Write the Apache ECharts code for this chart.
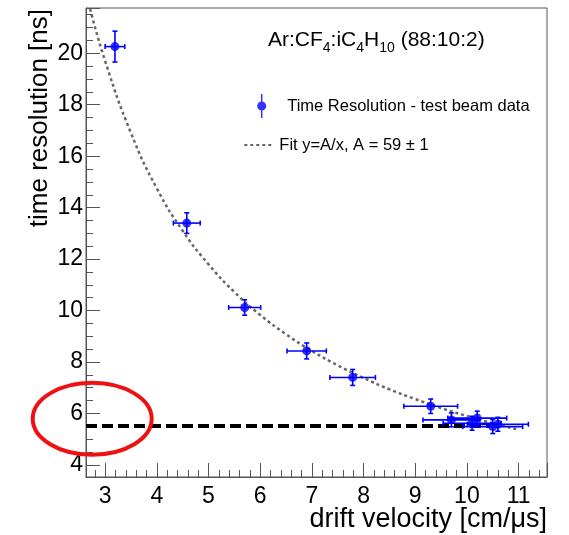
<!DOCTYPE html>
<html><head><meta charset="utf-8">
<script src="https://cdn.jsdelivr.net/npm/echarts@6/dist/echarts.min.js"></script>
<style>html,body{margin:0;padding:0;background:#fff}#c{width:569px;height:535px}</style>
</head><body><div id="c"></div>
<script>
// ---- data ----
const driftVelocity  = [3.19, 4.58, 5.70, 6.90, 7.79, 9.30, 9.70, 10.10, 10.20, 10.50, 10.60];
const timeResolution = [20.26, 13.40, 10.12, 8.43, 7.40, 6.28, 5.75, 5.62, 5.82, 5.49, 5.58];
const velocityErr    = [0.19, 0.26, 0.31, 0.38, 0.44, 0.52, 0.55, 0.56, 0.57, 0.58, 0.59];
const resolutionErr  = [0.60, 0.40, 0.30, 0.31, 0.31, 0.28, 0.27, 0.27, 0.27, 0.27, 0.27];
// fit curve samples
const fitX = [2.71, 3.0, 3.5, 4.0, 4.5, 5.0, 5.5, 6.0, 6.5, 7.0, 7.5, 8.0, 8.5, 9.0, 9.5, 10.0, 10.5, 11.0];
const fitY = [21.72, 19.7, 16.9, 14.75, 13.1, 11.8, 10.72, 9.83, 9.08, 8.43, 7.87, 7.38, 6.94, 6.56, 6.21, 5.9, 5.62, 5.37];
// dashed horizontal reference line
const refLineX = [2.63, 10.45];
const refLineY = 5.51;
// annotation ellipse centre (data coords)
const ellipseCenter = [2.75, 5.79];
// axis ranges
const xRange = [2.63, 11.55];
const yRange = [3.53, 21.76];
const dataName = 'Time Resolution - test beam data';
const fitName = 'Fit y=A/x, A = 59 \u00b1 1';
const xTitle = 'drift velocity [cm/\u03bcs]';
const yTitle = 'time resolution [ns]';

const FONT = '"Liberation Sans", Arial, Helvetica, sans-serif';
const AX = '#555';

const chart = echarts.init(document.getElementById('c'), null, {renderer: 'canvas'});

const errData = driftVelocity.map((v, i) => [v, timeResolution[i], velocityErr[i], resolutionErr[i]]);
const ptData = driftVelocity.map((v, i) => [v, timeResolution[i]]);
const fitData = fitX.map((v, i) => [v, fitY[i]]);
const refData = refLineX.map(v => [v, refLineY]);

function axisCommon() {
  return {
    type: 'value',
    axisLine: {show: true, onZero: false, lineStyle: {color: AX, width: 1}},
    axisTick: {show: true, inside: true, length: 14, lineStyle: {color: AX, width: 1}},
    minorTick: {show: true, length: 7, lineStyle: {color: AX, width: 1}},
    splitLine: {show: false},
    minorSplitLine: {show: false},
    axisLabel: {color: '#000', fontSize: 23, fontFamily: FONT, showMinLabel: false, showMaxLabel: false}
  };
}

const xAxis = axisCommon();
Object.assign(xAxis, {min: xRange[0], max: xRange[1], splitNumber: 9});
xAxis.minorTick.splitNumber = 5;
xAxis.axisLabel.margin = 8;

const yAxis = axisCommon();
Object.assign(yAxis, {min: yRange[0], max: yRange[1], splitNumber: 9});
yAxis.minorTick.splitNumber = 4;
yAxis.axisLabel.margin = 3;

const markerIcon = 'path://M3.75,0 L5.25,0 L5.25,24 L3.75,24 Z M0,12 A4.5,4.5 0 1,1 9,12 A4.5,4.5 0 1,1 0,12 Z';

chart.setOption({
  animation: false,
  backgroundColor: '#fff',
  grid: {left: 86, right: 22, top: 8, bottom: 58, show: true, borderColor: AX, borderWidth: 1,
         backgroundColor: 'transparent', containLabel: false, outerBoundsMode: 'none'},
  title: {
    left: 268, top: 28, padding: 0,
    text: '{a|Ar:CF}{s|4}{a|:iC}{s|4}{a|H}{s|10}{a| (88:10:2)}',
    textStyle: {
      fontWeight: 'normal',
      rich: {
        a: {fontSize: 21, fontWeight: 'normal', fontFamily: FONT, color: '#000', lineHeight: 24},
        s: {fontSize: 14, fontWeight: 'normal', fontFamily: FONT, color: '#000', lineHeight: 16, padding: [17, 0, 0, 0]}
      }
    }
  },
  legend: [
    {data: [{name: dataName, icon: markerIcon}], left: 257.2, top: 94, padding: 0,
     itemWidth: 9, itemHeight: 24, itemGap: 0, selectedMode: false,
     textStyle: {fontSize: 16.5, fontFamily: FONT, color: '#000', lineHeight: 20, padding: [0, 0, 0, 16]}},
    {data: [{name: fitName}], left: 243.3, top: 135, padding: 0,
     itemWidth: 30, itemHeight: 14, itemGap: 0, selectedMode: false,
     itemStyle: {opacity: 0},
     textStyle: {fontSize: 16.5, fontFamily: FONT, color: '#000', lineHeight: 20}}
  ],
  xAxis: xAxis,
  yAxis: yAxis,
  series: [
    {
      name: fitName, type: 'line', data: fitData, smooth: true, symbol: 'none', showSymbol: false,
      lineStyle: {color: '#666', width: 2.5, type: [3, 3]}, itemStyle: {color: '#666'}, z: 2
    },
    {
      name: 'ref', type: 'line', data: refData, symbol: 'none', showSymbol: false,
      lineStyle: {color: '#000', width: 4, type: [11, 5]}, z: 3
    },
    {
      name: 'errors', type: 'custom', data: errData, encode: {x: 0, y: 1}, z: 4,
      renderItem: function (params, api) {
        const x = api.value(0), y = api.value(1), ex = api.value(2), ey = api.value(3);
        const l = api.coord([x - ex, y]), r = api.coord([x + ex, y]);
        const t = api.coord([x, y + ey]), b = api.coord([x, y - ey]);
        const cap = 2.5;
        const st = {stroke: '#0000ff', lineWidth: 1.6};
        return {type: 'group', children: [
          {type: 'line', shape: {x1: l[0], y1: l[1], x2: r[0], y2: r[1]}, style: st},
          {type: 'line', shape: {x1: t[0], y1: t[1], x2: b[0], y2: b[1]}, style: st},
          {type: 'line', shape: {x1: l[0], y1: l[1] - cap, x2: l[0], y2: l[1] + cap}, style: st},
          {type: 'line', shape: {x1: r[0], y1: r[1] - cap, x2: r[0], y2: r[1] + cap}, style: st},
          {type: 'line', shape: {x1: t[0] - cap, y1: t[1], x2: t[0] + cap, y2: t[1]}, style: st},
          {type: 'line', shape: {x1: b[0] - cap, y1: b[1], x2: b[0] + cap, y2: b[1]}, style: st}
        ]};
      }
    },
    {
      name: dataName, type: 'scatter', data: ptData, symbol: 'circle', symbolSize: 9,
      itemStyle: {color: '#0000ff'}, z: 5
    }
  ]
});

const ec = chart.convertToPixel({gridIndex: 0}, ellipseCenter);
chart.setOption({
  graphic: [
    {type: 'text', z: 100, x: 547, y: 520,
     style: {text: xTitle, fontSize: 27, fontFamily: FONT, fill: '#000', align: 'right', verticalAlign: 'middle'}},
    {type: 'text', z: 100, x: 40, y: 9, rotation: Math.PI / 2,
     style: {text: yTitle, fontSize: 26, fontFamily: FONT, fill: '#000', align: 'right', verticalAlign: 'middle'}},
    {type: 'ellipse', z: 100, shape: {cx: ec[0], cy: ec[1], rx: 59.5, ry: 36},
     style: {fill: 'none', stroke: '#ee1111', lineWidth: 4}}
  ]
});
</script>
</body></html>
